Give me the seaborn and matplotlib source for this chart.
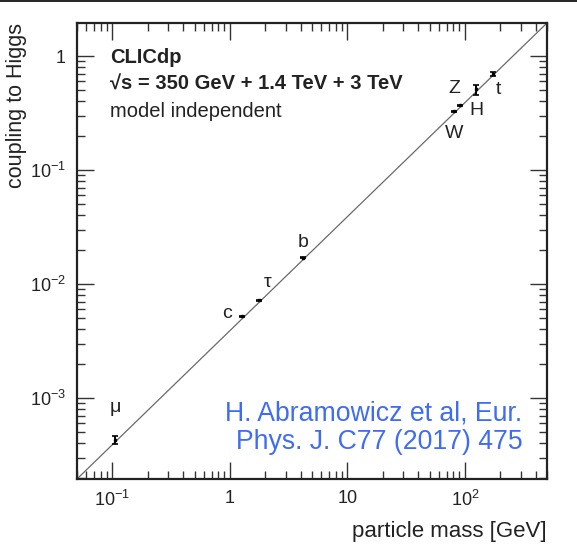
import numpy as np
import matplotlib
matplotlib.use("Agg")
import matplotlib.pyplot as plt
from matplotlib.ticker import LogLocator, FixedLocator, FixedFormatter, NullFormatter
import seaborn as sns

sns.set_style("ticks")
plt.rcParams['font.family'] = ['Liberation Sans', 'DejaVu Sans']
plt.rcParams['mathtext.fontset'] = 'custom'
plt.rcParams['mathtext.rm'] = 'Liberation Sans'

# particles: mass [GeV], coupling to Higgs, relative uncertainty
particles = ["μ", "c", "τ", "b", "W", "Z", "H", "t"]
mass = [0.106, 1.27, 1.78, 4.18, 80.4, 91.2, 125.0, 173.0]
coupling = [4.3e-4, 5.2e-3, 7.2e-3, 0.017, 0.327, 0.371, 0.51, 0.70]
rel_err = [0.08, 0.015, 0.015, 0.01, 0.01, 0.01, 0.10, 0.04]

# straight reference line (corner to corner)
line_mass = [0.05, 500.0]
line_coupling = [1.95e-4, 1.95]

# label offsets in points
label_dx = [0, -11, 6, 0, 0, -4, 0, 4]
label_dy = [23, 2, 13, 11, -16, 12, -15, -11]

fig = plt.figure(figsize=(5.77, 5.57), dpi=100)
ax = fig.add_axes([77/577, 1-479/557, 470/577, 456/557])

sns.lineplot(x=line_mass, y=line_coupling, ax=ax, color="#6a6a6a", lw=0.9)

err = np.array(coupling) * np.array(rel_err)
ax.errorbar(mass, coupling, yerr=err, fmt='s', ms=1.7, color='black',
            ecolor='black', elinewidth=1.4, capsize=2, capthick=1.2, zorder=3)

for name, m, c, dx, dy in zip(particles, mass, coupling, label_dx, label_dy):
    ax.annotate(name, (m, c), xytext=(dx, dy), textcoords='offset points',
                ha='center', va='center', fontsize=14, color='#222222')

ax.set_xscale('log')
ax.set_yscale('log')
ax.set_xlim(0.05, 500)
ax.set_ylim(1.95e-4, 1.95)

ax.xaxis.set_major_locator(FixedLocator([0.1, 1, 10, 100]))
ax.xaxis.set_major_formatter(FixedFormatter([r'$10^{-1}$', '1', '10', r'$10^{2}$']))
ax.yaxis.set_major_locator(FixedLocator([1e-3, 1e-2, 1e-1, 1]))
ax.yaxis.set_major_formatter(FixedFormatter([r'$10^{-3}$', r'$10^{-2}$', r'$10^{-1}$', '1']))
ax.xaxis.set_minor_locator(LogLocator(base=10, subs=np.arange(2, 10), numticks=20))
ax.yaxis.set_minor_locator(LogLocator(base=10, subs=np.arange(2, 10), numticks=20))
ax.xaxis.set_minor_formatter(NullFormatter())
ax.yaxis.set_minor_formatter(NullFormatter())

ax.tick_params(which='both', direction='in', top=True, right=True, width=1.0,
               color='#333333', labelsize=13, labelcolor='#222222')
ax.tick_params(which='major', length=12, pad=8)
ax.tick_params(which='minor', length=6)
for s in ax.spines.values():
    s.set_linewidth(1.6)
    s.set_color('#222222')

ax.set_xlabel('particle mass [GeV]', loc='right', fontsize=16, color='#222222',
              labelpad=8)
ax.set_ylabel('coupling to Higgs', loc='top', fontsize=15.5, color='#222222',
              labelpad=2)

ax.text(0.07, 0.925, 'CLICdp', transform=ax.transAxes, fontsize=14.5,
        fontweight='bold', color='#222222', va='center')
ax.text(0.07, 0.866, '√s = 350 GeV + 1.4 TeV + 3 TeV', transform=ax.transAxes,
        fontsize=14.5, fontweight='bold', color='#222222', va='center')
ax.text(0.07, 0.807, 'model independent', transform=ax.transAxes, fontsize=14.5,
        color='#222222', va='center')

ax.text(0.948, 0.053, 'H. Abramowicz et al, Eur.\nPhys. J. C77 (2017) 475',
        transform=ax.transAxes, fontsize=19.2, color='#3f6cf5', ha='right',
        va='bottom', linespacing=1.1)

fig.add_artist(plt.Line2D([0, 1], [0.999, 0.999], color='black', lw=1.2,
                          transform=fig.transFigure))

fig.savefig('out.png', dpi=100)
